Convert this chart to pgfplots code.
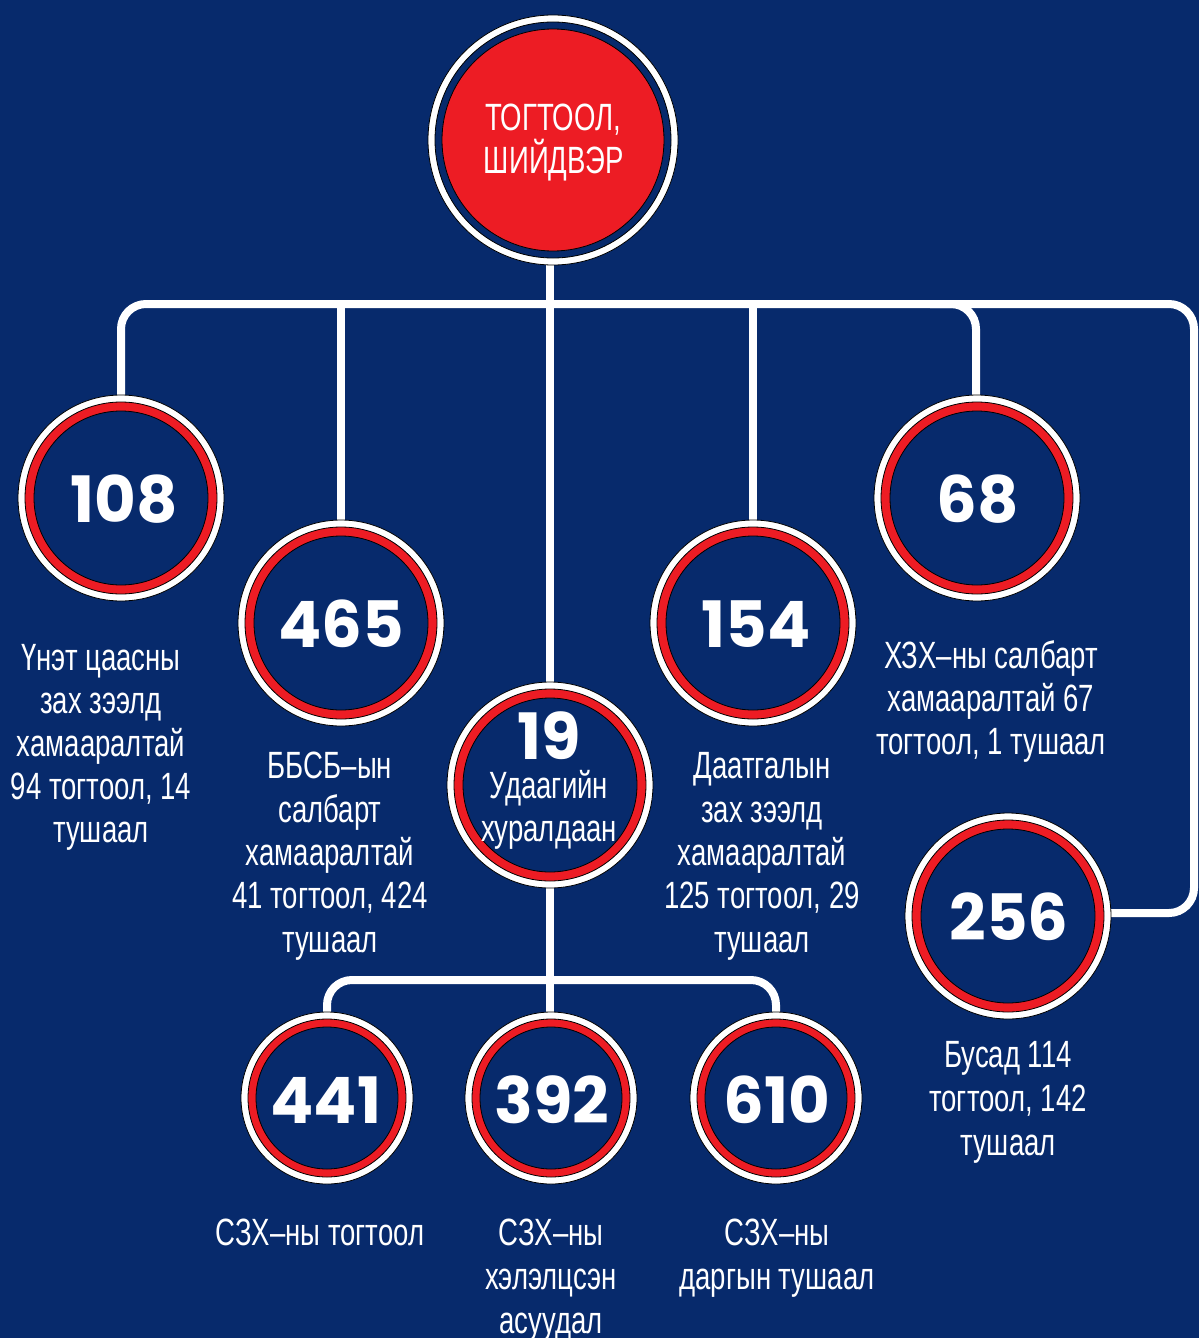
\documentclass[border=0pt]{standalone}
\usepackage{pgfplots}
\pgfplotsset{compat=1.18}
\usepackage{pgfplotstable}
\usepackage{fontspec}
\setmainfont{Liberation Sans}[FakeStretch=0.725]
\newfontfamily\numfont{Poppins}

\definecolor{navy}{HTML}{072A6C}
\definecolor{brandred}{HTML}{ED1C24}

\tikzset{
  lb/.style={anchor=base, inner sep=0pt, text=white, font=\fontsize{19}{22}\selectfont},
  nb/.style={anchor=base, inner sep=0pt, text depth=0pt, text=white, font=\numfont\bfseries\fontsize{32}{36}\selectfont},
}

% circle centres in pixel units of the original (y downwards)
\pgfplotstableread{
x y
553 140
}\topnode
\pgfplotstableread{
x y
121 498
341 623
550 785
753 623
977 498
1008 916
}\midnodes
\pgfplotstableread{
x y
327 1098
551 1098
776 1098
}\lownodes

\begin{document}
\begin{tikzpicture}
\begin{axis}[
  scale only axis, width=599.5pt, height=669pt,
  xmin=0, xmax=1199, ymin=0, ymax=1338, y dir=reverse,
  axis line style={draw=none}, ticks=none,
  axis background/.style={fill=navy},
  clip marker paths=true,
]
% connectors
\addplot[white, line width=4pt, rounded corners=12.5pt] coordinates {(121,400) (121,304) (1194,304) (1194,913) (1105,913)};
\addplot[white, line width=4pt, rounded corners=12.5pt] coordinates {(930,304) (976,304) (976,400)};
\addplot[white, line width=4pt] coordinates {(341,304) (341,525)};
\addplot[white, line width=4pt] coordinates {(753,304) (753,525)};
\addplot[white, line width=4pt] coordinates {(550,260) (550,690)};
\addplot[white, line width=4pt] coordinates {(550,880) (550,1018)};
\addplot[white, line width=4pt, rounded corners=12.5pt] coordinates {(327,1018) (327,980) (776,980) (776,1018)};

% top circle
\addplot[only marks, mark=*, mark size=62.5pt, mark options={draw=none, fill=white}] table {\topnode};
\addplot[only marks, mark=*, mark size=59pt, mark options={draw=none, fill=navy}] table {\topnode};
\addplot[only marks, mark=*, mark size=55.5pt, mark options={draw=none, fill=brandred}] table {\topnode};
% middle circles
\addplot[only marks, mark=*, mark size=51.5pt, mark options={draw=none, fill=white}] table {\midnodes};
\addplot[only marks, mark=*, mark size=48pt, mark options={draw=none, fill=brandred}] table {\midnodes};
\addplot[only marks, mark=*, mark size=43.5pt, mark options={draw=none, fill=navy}] table {\midnodes};
% lower circles
\addplot[only marks, mark=*, mark size=43pt, mark options={draw=none, fill=white}] table {\lownodes};
\addplot[only marks, mark=*, mark size=39.5pt, mark options={draw=none, fill=brandred}] table {\lownodes};
\addplot[only marks, mark=*, mark size=35.5pt, mark options={draw=none, fill=navy}] table {\lownodes};

% top circle text
\node[lb] at (axis cs:553,131) {ТОГТООЛ,};
\node[lb] at (axis cs:554,173) {ШИЙДВЭР};

% numbers
\node[nb] at (axis cs:124,522) {108};
\node[nb] at (axis cs:341,647) {465};
\node[nb] at (axis cs:549,759) {19};
\node[nb] at (axis cs:756,647) {154};
\node[nb] at (axis cs:978,522) {68};
\node[nb] at (axis cs:1009,940) {256};
\node[nb] at (axis cs:326,1123) {441};
\node[nb] at (axis cs:552,1123) {392};
\node[nb] at (axis cs:777,1123) {610};

% labels
\node[lb] at (axis cs:549,798) {Удаагийн};
\node[lb] at (axis cs:549,841) {хуралдаан};

\node[lb] at (axis cs:101,670) {Үнэт цаасны};
\node[lb] at (axis cs:101,713) {зах зээлд};
\node[lb] at (axis cs:101,756) {хамааралтай};
\node[lb] at (axis cs:101,799) {94 тогтоол, 14};
\node[lb] at (axis cs:101,842) {тушаал};

\node[lb] at (axis cs:330,778) {ББСБ–ын};
\node[lb] at (axis cs:330,822) {салбарт};
\node[lb] at (axis cs:330,865) {хамааралтай};
\node[lb] at (axis cs:330,908) {41 тогтоол, 424};
\node[lb] at (axis cs:330,952) {тушаал};

\node[lb] at (axis cs:762,778) {Даатгалын};
\node[lb] at (axis cs:762,822) {зах зээлд};
\node[lb] at (axis cs:762,865) {хамааралтай};
\node[lb] at (axis cs:762,908) {125 тогтоол, 29};
\node[lb] at (axis cs:762,952) {тушаал};

\node[lb] at (axis cs:991,668) {ХЗХ–ны салбарт};
\node[lb] at (axis cs:991,711) {хамааралтай 67};
\node[lb] at (axis cs:991,754) {тогтоол, 1 тушаал};

\node[lb] at (axis cs:1008,1067) {Бусад 114};
\node[lb] at (axis cs:1008,1111) {тогтоол, 142};
\node[lb] at (axis cs:1008,1155) {тушаал};

\node[lb] at (axis cs:320,1245) {СЗХ–ны тогтоол};
\node[lb] at (axis cs:551,1245) {СЗХ–ны};
\node[lb] at (axis cs:551,1289) {хэлэлцсэн};
\node[lb] at (axis cs:551,1333) {асуудал};
\node[lb] at (axis cs:777,1245) {СЗХ–ны};
\node[lb] at (axis cs:777,1289) {даргын тушаал};
\end{axis}
\end{tikzpicture}
\end{document}
